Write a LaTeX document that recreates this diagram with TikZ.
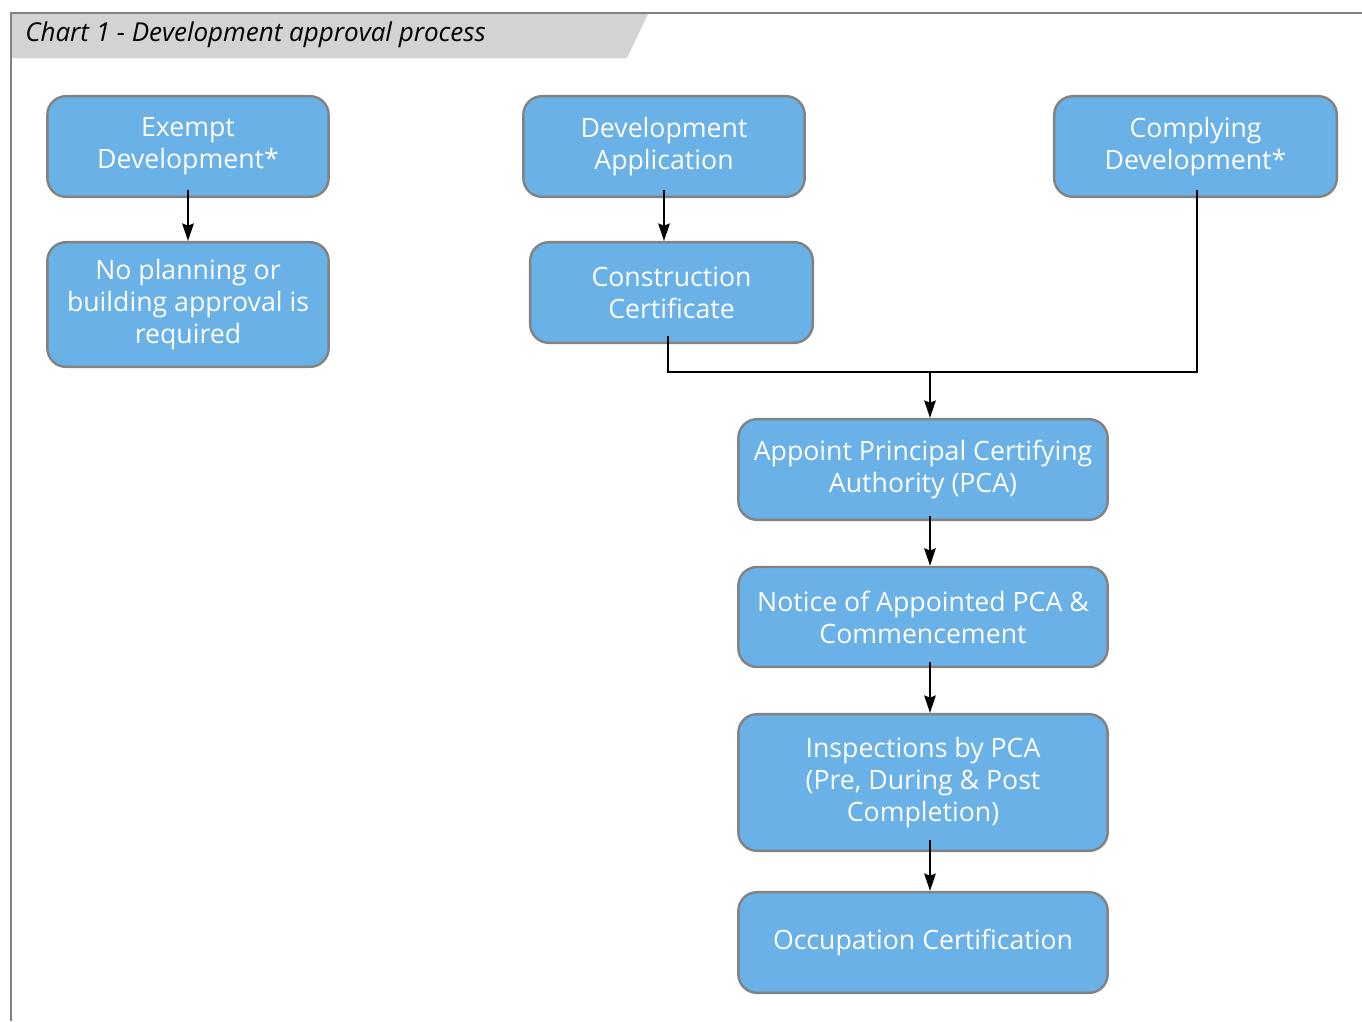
\documentclass[tikz,border=0pt]{standalone}
\usepackage{fontspec}
\setmainfont{Open Sans}
\usetikzlibrary{arrows.meta}

\definecolor{boxblue}{HTML}{69B1E6}
\definecolor{boxedge}{HTML}{828282}
\definecolor{bannergray}{HTML}{D3D3D3}

\begin{document}
\begin{tikzpicture}[x=0.75pt, y=-0.75pt,
  box/.style={draw=boxedge, line width=1.8pt, fill=boxblue, rounded corners=14pt,
    text=white, align=center, inner sep=0pt, font=\fontsize{20}{24}\selectfont},
  arr/.style={-{Stealth[length=13pt,width=8.5pt,inset=1.5pt]}, line width=1.9pt}]
  \useasboundingbox (0,0) rectangle (1362,1021);
  % frame and title banner
  \fill[bannergray] (12,14) -- (648,14) -- (627,58) -- (12,58) -- cycle;
  \draw[boxedge, line width=1.6pt] (11,1021) -- (11,13) -- (1362,13);
  \node[anchor=base west, inner sep=0pt, font=\itshape\fontsize{19.5}{22}\selectfont] (title) at (25,41)
    {Chart 1 - Development approval process};

  % boxes
  \node[box, minimum width=211pt, minimum height=75.5pt] (exempt) at (188,146.5) {Exempt\\Development*};
  \node[box, minimum width=211pt, minimum height=93.5pt] (noplan) at (188,304.5) {No planning or\\building approval is\\required};
  \node[box, minimum width=211pt, minimum height=75.5pt] (devapp) at (664,146.5) {Development\\Application};
  \node[box, minimum width=212pt, minimum height=75.5pt] (constr) at (671.5,292.5) {Construction\\Certificate};
  \node[box, minimum width=212pt, minimum height=75.5pt] (comply) at (1195.5,146.5) {Complying\\Development*};
  \node[box, minimum width=277pt, minimum height=75.5pt] (pca) at (923,469.5) {Appoint Principal Certifying\\Authority (PCA)};
  \node[box, minimum width=277pt, minimum height=75pt] (notice) at (923,617) {Notice of Appointed PCA \&\\Commencement};
  \node[box, minimum width=277pt, minimum height=102.5pt] (inspect) at (923,782.5) {Inspections by PCA\\(Pre, During \& Post\\Completion)};
  \node[box, minimum width=277pt, minimum height=75.5pt] (occupy) at (923,942.5) {Occupation Certification};

  % connectors
  \coordinate (join) at (930,372);
  \draw[arr] ([yshift=6pt]exempt.south) -- (noplan.north);
  \draw[arr] ([yshift=6pt]devapp.south) -- (devapp.south |- constr.north);
  \draw[line width=1.9pt] ([xshift=-2.6pt,yshift=6pt]constr.south) |- (join) -| ([xshift=1.2pt,yshift=6pt]comply.south);
  \draw[arr] (join) -- (join |- pca.north);
  \draw[arr] ([xshift=5.25pt,yshift=4pt]pca.south) -- ([xshift=5.25pt]notice.north);
  \draw[arr] ([xshift=5.25pt,yshift=5pt]notice.south) -- ([xshift=5.25pt]inspect.north);
  \draw[arr] ([xshift=5.25pt,yshift=9pt]inspect.south) -- ([xshift=5.25pt]occupy.north);
\end{tikzpicture}
\end{document}
